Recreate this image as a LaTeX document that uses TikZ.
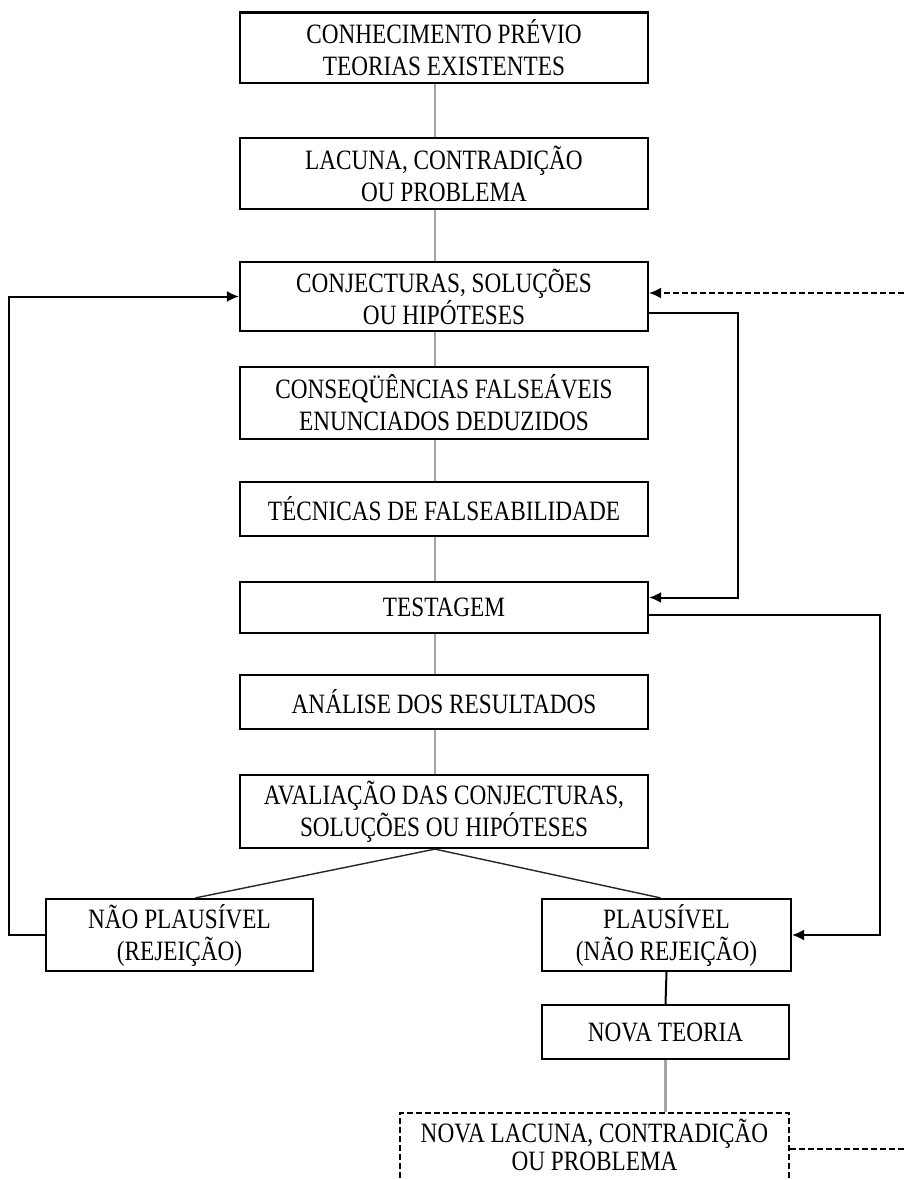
\documentclass[tikz,border=0pt]{standalone}
\usepackage{fontspec}
\setmainfont{Liberation Serif}[FakeStretch=0.83]
\usetikzlibrary{arrows.meta,calc}
\begin{document}
\begin{tikzpicture}[x=1pt,y=-1pt,
  box/.style={draw=black,line width=2.2pt,fill=white,rectangle,inner sep=0pt,
    align=center,font=\fontsize{28}{32}\selectfont,text=black},
  mainbox/.style={box,minimum width=408pt},
  dbox/.style={box,dash pattern=on 6pt off 3pt,line width=1.8pt},
  label/.style={inner sep=0pt,align=center,font=\fontsize{28}{28}\selectfont,text=black},
  grayline/.style={draw={rgb,255:red,165;green,165;blue,165},line width=2.8pt},
  blackline/.style={draw=black,line width=2pt},
  thinline/.style={draw=black!85,line width=1.4pt},
  arr/.style={blackline,-{Latex[length=12pt,width=11pt]}},
  darr/.style={draw=black,line width=1.6pt,dash pattern=on 6pt off 3pt,-{Latex[length=12pt,width=11pt]}}
]
\useasboundingbox[fill=white] (0,0) rectangle (904,1180);
\coordinate (spine) at (435,0);
\coordinate (edgeTop) at (904,293);
\coordinate (edgeBot) at (904,1149);

\node[mainbox,minimum height=70.5pt] (b1) at (444,47.75) {CONHECIMENTO PRÉVIO\\TEORIAS EXISTENTES};
\node[mainbox,minimum height=71pt] (b2) at (444,173.5) {LACUNA, CONTRADIÇÃO\\OU PROBLEMA};
\node[mainbox,minimum height=69pt] (b3) at (444,296.5) {CONJECTURAS, SOLUÇÕES\\OU HIPÓTESES};
\node[mainbox,minimum height=72pt] (b4) at (444,403) {CONSEQÜÊNCIAS FALSEÁVEIS\\ENUNCIADOS DEDUZIDOS};
\node[mainbox,minimum height=54pt] (b5) at (444,509) {TÉCNICAS DE FALSEABILIDADE};
\node[mainbox,minimum height=51pt] (b6) at (444,607.5) {TESTAGEM};
\node[mainbox,minimum height=54pt] (b7) at (444,702) {ANÁLISE DOS RESULTADOS};
\node[mainbox,minimum height=73pt] (b8) at (444,811.5) {AVALIAÇÃO DAS CONJECTURAS,\\SOLUÇÕES OU HIPÓTESES};
\node[box,minimum width=267pt,minimum height=72pt] (no) at (179.5,935) {NÃO PLAUSÍVEL\\(REJEIÇÃO)};
\node[box,minimum width=249pt,minimum height=72pt] (pl) at (666.5,935) {PLAUSÍVEL\\(NÃO REJEIÇÃO)};
\node[box,minimum width=247pt,minimum height=54pt] (nt) at (665.5,1032) {NOVA TEORIA};
\node[dbox,minimum width=389pt,minimum height=72pt] (nl) at (594.5,1149) {};
\node[label] (nlt) at (594.5,1145) {NOVA LACUNA, CONTRADIÇÃO\\OU PROBLEMA};

% gray spine connectors
\draw[grayline] (b1.south -| spine) -- (b2.north -| spine);
\draw[grayline] (b2.south -| spine) -- (b3.north -| spine);
\draw[grayline] (b3.south -| spine) -- (b4.north -| spine);
\draw[grayline] (b4.south -| spine) -- (b5.north -| spine);
\draw[grayline] (b5.south -| spine) -- (b6.north -| spine);
\draw[grayline] (b6.south -| spine) -- (b7.north -| spine);
\draw[grayline] (b7.south -| spine) -- (b8.north -| spine);

% branches
\draw[thinline] (b8.south -| spine) -- ($(no.north)+(16,0)$);
\draw[thinline] (b8.south -| spine) -- ($(pl.north)+(-6,0)$);

\draw[blackline] (pl.south) -- (nt.north);
\draw[grayline] (nt.south) -- (nt.south |- nl.north);

% loops
\draw[arr] (no.west) -- ++(-36,0) |- (b3.west);
\draw[arr] ($(b3.east)+(0,16)$) -- ++(89,0) |- ($(b6.east)+(0,-10)$);
\draw[arr] ($(b6.east)+(-2,7.5)$) -- ++(233,0) |- (pl.east);

% dashed feedback
\draw[darr] (edgeTop) -- ($(b3.east)+(0,-3.5)$);
\draw[draw=black,line width=1.6pt,dash pattern=on 6pt off 3pt] (nl.east) -- (edgeBot);
\end{tikzpicture}
\end{document}
